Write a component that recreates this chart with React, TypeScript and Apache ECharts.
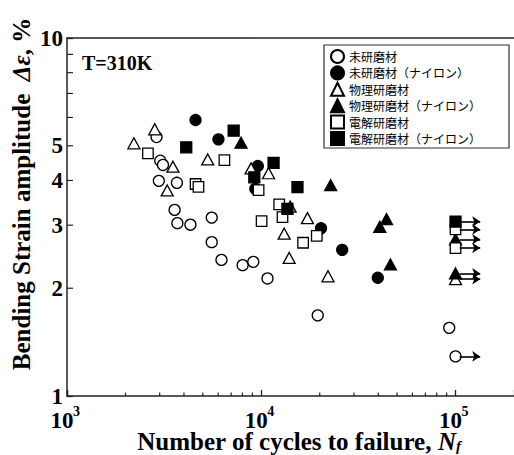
import React, { useEffect, useRef } from "react";
import * as echarts from "echarts";

const SERIF = '"Liberation Serif", "Times New Roman", serif';
const CJK = '"Noto Sans CJK JP", "Noto Sans", sans-serif';

const seriesNames = [
  "未研磨材",
  "未研磨材（ナイロン）",
  "物理研磨材",
  "物理研磨材（ナイロン）",
  "電解研磨材",
  "電解研磨材（ナイロン）",
];

// [cycles to failure, bending strain amplitude %]
const unpolished: [number, number][] = [
  [2890, 5.29], [3020, 4.54], [3120, 4.42], [2970, 3.99], [3680, 3.94],
  [3580, 3.31], [3700, 3.04], [4320, 3.01], [5560, 3.15], [5560, 2.69],
  [6240, 2.4], [8020, 2.32], [9100, 2.37], [10770, 2.13], [19530, 1.68],
  [92800, 1.55], [100000, 1.29],
];
const unpolishedNylon: [number, number][] = [
  [4590, 5.9], [6020, 5.21], [9600, 4.39], [9320, 3.79], [20300, 2.94],
  [26100, 2.56], [39800, 2.14],
];
const physical: [number, number][] = [
  [2210, 5.08], [2830, 5.56], [3510, 4.37], [3280, 3.75], [5300, 4.58],
  [8860, 4.32], [10900, 4.19], [14080, 3.38], [17290, 3.14], [13120, 2.84],
  [13920, 2.43], [22060, 2.16], [100000, 2.12],
];
const physicalNylon: [number, number][] = [
  [7870, 5.1], [22770, 3.88], [44130, 3.12], [40750, 2.97], [46240, 2.33],
  [100000, 2.74], [100000, 2.2],
];
const electro: [number, number][] = [
  [2610, 4.76], [6460, 4.56], [4590, 3.91], [4750, 3.84], [9690, 3.76],
  [12370, 3.43], [12860, 3.16], [10040, 3.08], [16420, 2.68], [19310, 2.8],
  [100000, 2.92], [100000, 2.59],
];
const electroNylon: [number, number][] = [
  [4110, 4.95], [7210, 5.51], [9210, 4.08], [11570, 4.48], [15360, 3.83],
  [13640, 3.33], [100000, 3.07],
];

// run-out (no failure) arrows
const runoutStrain = [3.07, 2.92, 2.74, 2.59, 2.2, 2.12, 1.29];
const arrowFrom = 105000;
const arrowTo = 134000;

const xMajorLabels = [1000, 10000, 100000];
const xMinorTicks = [2000, 3000, 4000, 5000, 6000, 7000, 8000, 9000, 20000, 30000, 40000, 50000, 60000, 70000, 80000, 90000];
const yMinorTicks = [2, 3, 4, 5, 6, 7, 8, 9];
const yExtraLabels = [2, 3, 4, 5];

const symbols = ["circle", "circle", "triangle", "triangle", "rect", "rect"];
const filled = [false, true, false, true, false, true];
const sizes: any[] = [11, 11, [12, 11], [12, 11], 10.5, 11];
const datasets = [unpolished, unpolishedNylon, physical, physicalNylon, electro, electroNylon];

export default function App() {
  const ref = useRef<HTMLDivElement>(null);
  useEffect(() => {
    if (!ref.current) return;
    const chart = echarts.init(ref.current, null, { renderer: "svg" });
    const scatter = datasets.map((d, i) => ({
      name: seriesNames[i],
      type: "scatter",
      data: d,
      symbol: symbols[i],
      symbolSize: sizes[i],
      itemStyle: {
        color: filled[i] ? "#000" : "#fff",
        borderColor: "#000",
        borderWidth: 1.3,
        opacity: 1,
      },
      z: 3,
    }));
    const option: any = {
      animation: false,
      backgroundColor: "#fff",
      grid: { left: 67, top: 38, width: 449, height: 358 },
      xAxis: [
        {
          type: "log",
          logBase: 10,
          min: 1000,
          max: 200000,
          axisLine: { show: true, lineStyle: { color: "#222", width: 1.5 } },
          axisTick: { show: true, inside: true, length: 6, lineStyle: { color: "#222", width: 1.3 } },
          splitLine: { show: false },
          axisLabel: { show: false },
        },
        {
          type: "log",
          logBase: 10,
          min: 1000,
          max: 200000,
          position: "top",
          axisLine: { show: true, lineStyle: { color: "#222", width: 1.5 } },
          axisTick: { show: false },
          axisLabel: { show: false },
          splitLine: { show: false },
        },
      ],
      yAxis: {
        type: "log",
        logBase: 10,
        min: 1,
        max: 10,
        axisLine: { show: true, lineStyle: { color: "#222", width: 1.5 } },
        axisTick: { show: true, inside: true, length: 6, lineStyle: { color: "#222", width: 1.3 } },
        splitLine: { show: false },
        axisLabel: {
          margin: 4,
          fontSize: 23,
          fontWeight: "bold",
          fontFamily: SERIF,
          color: "#000",
        },
      },
      legend: {
        data: seriesNames,
        orient: "vertical",
        left: 324,
        top: 45,
        itemWidth: 13,
        itemHeight: 13,
        itemGap: 1.4,
        padding: [4, 28, 2, 6],
        borderColor: "#333",
        borderWidth: 1.2,
        backgroundColor: "#fff",
        selectedMode: false,
        textStyle: { fontFamily: CJK, fontSize: 12, color: "#000" },
      },
      graphic: [
        {
          type: "text",
          left: 82,
          top: 53,
          style: { text: "T=310K", font: 'bold 20px "Liberation Serif"', fill: "#000" },
        },
        {
          type: "text",
          x: 299,
          y: 441,
          style: {
            text: "{n|Number of cycles to failure, }{i|N}{u|f}",
            align: "center",
            verticalAlign: "middle",
            rich: {
              n: { fontSize: 25, fontWeight: "bold", fontFamily: SERIF, fill: "#000", lineHeight: 24, verticalAlign: "top" },
              i: { fontSize: 25, fontWeight: "bold", fontStyle: "italic", fontFamily: SERIF, fill: "#000", lineHeight: 24, verticalAlign: "top" },
              u: { fontSize: 15, fontWeight: "bold", fontStyle: "italic", fontFamily: SERIF, fill: "#000", lineHeight: 14, verticalAlign: "bottom" },
            },
          },
        },
        {
          type: "text",
          x: 21,
          y: 194,
          rotation: Math.PI / 2,
          style: {
            text: "{n|Bending Strain amplitude  }{i|Δε}{n|, %}",
            align: "center",
            verticalAlign: "middle",
            rich: {
              n: { fontSize: 25, fontWeight: "bold", fontFamily: SERIF, fill: "#000" },
              i: { fontSize: 25, fontWeight: "bold", fontStyle: "italic", fontFamily: SERIF, fill: "#000" },
            },
          },
        },
      ],
      series: [
        ...scatter,
        {
          name: "runout",
          type: "scatter",
          data: [],
          markLine: {
            silent: true,
            symbol: ["none", "arrow"],
            symbolSize: 8,
            label: { show: false },
            lineStyle: { color: "#000", width: 1.6, type: "solid" },
            data: runoutStrain.map((v) => [{ coord: [arrowFrom, v] }, { coord: [arrowTo, v] }]),
          },
        },
        {
          name: "xlabels",
          type: "custom",
          silent: true,
          clip: false,
          z: 4,
          data: xMajorLabels.map((v) => [v, 1]),
          renderItem: (_p: any, api: any) => {
            const v = api.value(0);
            const p = api.coord([v, api.value(1)]);
            const e = Math.round(Math.log10(v));
            return {
              type: "group",
              children: [
                {
                  type: "text",
                  x: p[0] - 5,
                  y: p[1] + 24.5,
                  style: {
                    text: "10",
                    align: "center",
                    verticalAlign: "middle",
                    fontSize: 23,
                    lineHeight: 17,
                    fontWeight: "bold",
                    fontFamily: SERIF,
                    fill: "#000",
                  },
                },
                {
                  type: "text",
                  x: p[0] + 6,
                  y: p[1] + 15,
                  style: {
                    text: String(e),
                    align: "left",
                    verticalAlign: "middle",
                    fontSize: 14,
                    lineHeight: 11,
                    fontWeight: "bold",
                    fontFamily: SERIF,
                    fill: "#000",
                  },
                },
              ],
            };
          },
        },
        {
          name: "xminor",
          type: "custom",
          silent: true,
          clip: false,
          z: 4,
          data: xMinorTicks.map((v) => [v, 1]),
          renderItem: (_p: any, api: any) => {
            const p = api.coord([api.value(0), api.value(1)]);
            return {
              type: "line",
              shape: { x1: p[0], y1: p[1], x2: p[0], y2: p[1] - 3.5 },
              style: { stroke: "#222", lineWidth: 1.2 },
            };
          },
        },
        {
          name: "yminor",
          type: "custom",
          silent: true,
          clip: false,
          z: 4,
          data: yMinorTicks.map((v) => [1000, v]),
          renderItem: (_p: any, api: any) => {
            const p = api.coord([api.value(0), api.value(1)]);
            return {
              type: "line",
              shape: { x1: p[0], y1: p[1], x2: p[0] + 6, y2: p[1] },
              style: { stroke: "#222", lineWidth: 1.2 },
            };
          },
        },
        {
          name: "ylabels",
          type: "custom",
          silent: true,
          clip: false,
          z: 4,
          data: yExtraLabels.map((v) => [1000, v]),
          renderItem: (_p: any, api: any) => {
            const p = api.coord([api.value(0), api.value(1)]);
            return {
              type: "text",
              x: p[0] - 4,
              y: p[1],
              style: {
                text: String(api.value(1)),
                align: "right",
                verticalAlign: "middle",
                fontSize: 23,
                fontWeight: "bold",
                fontFamily: SERIF,
                fill: "#000",
              },
            };
          },
        },
      ],
    };
    chart.setOption(option);
    return () => chart.dispose();
  }, []);
  return (
    <div
      ref={ref}
      style={{ position: "fixed", left: 0, top: 0, width: 514, height: 455, background: "#fff" }}
    />
  );
}
